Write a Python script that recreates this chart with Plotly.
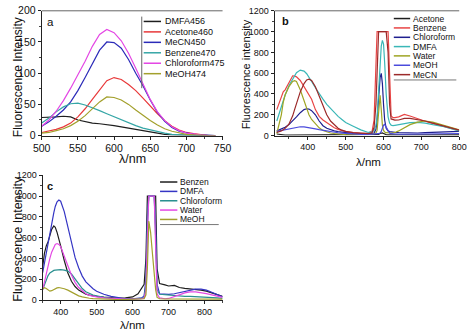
import plotly.graph_objects as go

# ---------------- panel a: emission spectra (500-750 nm) ----------------
wl_a = [500, 510, 520, 530, 540, 550, 560, 570, 580, 590, 600, 610, 620,
        630, 640, 650, 660, 670, 680, 690, 700, 710, 720, 730, 740]
a_dmfa456 = [29, 29, 30, 31, 30, 25, 22, 20, 19, 18, 16, 14, 12, 9, 7, 5, 3, 2, 1, 1, 0, 0, 0, 0, 0]
a_acetone460 = [5, 7, 10, 14, 20, 30, 43, 58, 74, 88, 93, 90, 82, 72, 60, 47, 35, 24, 15, 9, 5, 3, 1, 0, 0]
a_mecn450 = [15, 22, 31, 41, 54, 72, 93, 115, 137, 150, 149, 140, 122, 100, 80, 57, 37, 23, 13, 7, 4, 2, 1, 0, 0]
a_benzene470 = [20, 28, 38, 46, 51, 52, 49, 45, 40, 35, 30, 25, 20, 16, 12, 9, 6, 4, 2, 1, 1, 0, 0, 0, 0]
a_chloroform475 = [15, 25, 39, 56, 76, 97, 119, 143, 162, 170, 165, 152, 132, 108, 82, 58, 38, 24, 14, 8, 4, 2, 1, 0, 0]
a_meoh474 = [4, 5, 8, 11, 16, 23, 32, 43, 54, 62, 61, 57, 50, 41, 32, 24, 17, 11, 7, 4, 2, 1, 0, 0, 0]

# ---------------- panel b: spectra 318-800 nm ----------------
wl_b = [318, 325, 330, 335, 340, 350, 360, 365, 370, 380, 390, 397, 403, 410, 420, 430, 440,
        450, 460, 470, 480, 490, 500, 520, 540, 560, 570, 575, 580, 583, 587, 591, 594, 597,
        600, 603, 607, 612, 616, 620, 625, 630, 640, 655, 670, 690, 710, 730, 760, 800]
b_acetone = [15, 10, 6, 5, 5, 5, 5, 5, 5, 5, 5, 5, 5, 5, 5, 5, 5, 5, 5, 5,
             5, 5, 5, 5, 5, 5, 5, 6, 7, 8, 12, 20, 25, 25, 20, 14, 9, 7, 6, 6,
             6, 6, 6, 6, 6, 6, 6, 6, 6, 6]
b_benzene = [250, 320, 380, 420, 440, 510, 575, 573, 565, 530, 470, 430, 395, 350, 250, 185, 150, 125, 95, 75,
             60, 47, 38, 28, 22, 25, 45, 150, 850, 1000, 1000, 1000, 1000, 1000, 1000, 1000, 1000, 1000, 600, 190,
             172, 172, 180, 204, 188, 162, 138, 118, 90, 48]
b_chloroform = [45, 55, 62, 70, 80, 105, 140, 160, 180, 220, 250, 258, 255, 240, 200, 140, 95, 70, 55, 45,
                38, 32, 28, 20, 15, 15, 18, 25, 60, 150, 350, 560, 598, 500, 300, 150, 70, 45, 38, 35,
                32, 30, 28, 26, 25, 25, 28, 32, 36, 40]
b_dmfa = [140, 220, 280, 340, 390, 480, 550, 580, 605, 630, 620, 595, 565, 520, 460, 400, 350, 300, 260, 220,
          185, 155, 125, 90, 55, 30, 35, 50, 100, 180, 400, 700, 860, 915, 880, 700, 400, 180, 120, 100,
          95, 98, 105, 115, 125, 127, 120, 105, 85, 45]
b_water = [20, 120, 200, 320, 390, 470, 520, 528, 520, 440, 330, 250, 200, 155, 110, 75, 50, 35, 25, 20,
           15, 12, 10, 8, 8, 10, 15, 18, 25, 50, 200, 388, 250, 100, 50, 35, 28, 25, 25, 25,
           27, 30, 45, 75, 105, 130, 140, 130, 100, 55]
b_meoh = [40, 45, 50, 55, 60, 68, 75, 79, 82, 85, 83, 80, 76, 72, 65, 57, 50, 43, 37, 32,
          27, 23, 20, 15, 12, 12, 12, 13, 14, 15, 18, 25, 40, 70, 100, 108, 80, 40, 25, 18,
          15, 14, 13, 13, 14, 15, 16, 17, 19, 20]
b_mecn = [30, 35, 45, 55, 70, 110, 190, 250, 310, 420, 500, 535, 543, 530, 470, 380, 280, 200, 140, 100,
          70, 52, 40, 28, 20, 18, 30, 80, 300, 700, 1000, 1000, 1000, 1000, 1000, 1000, 1000, 800, 300, 160,
          150, 148, 150, 165, 165, 155, 140, 120, 92, 52]

# ---------------- panel c: spectra 350-850 nm ----------------
wl_c = [350, 355, 360, 365, 370, 375, 381, 385, 390, 395, 400, 410, 420, 430, 440, 450, 460, 470, 480, 490,
        500, 520, 540, 560, 580, 600, 615, 625, 632, 637, 641, 645, 650, 655, 660, 664, 668, 675, 690, 700,
        716, 730, 745, 760, 775, 790, 805, 820, 835, 850]
c_benzen = [320, 450, 520, 560, 620, 680, 713, 700, 650, 590, 520, 380, 260, 180, 130, 95, 72, 57, 47, 40,
            35, 28, 22, 18, 20, 30, 60, 110, 150, 400, 1000, 1000, 1000, 1000, 1000, 1000, 300, 158, 145, 135,
            140, 120, 112, 108, 100, 95, 85, 70, 50, 35]
c_dmfa = [263, 360, 450, 550, 650, 740, 840, 900, 945, 961, 950, 850, 700, 540, 410, 310, 230, 175, 138, 108,
          85, 55, 35, 20, 12, 12, 15, 20, 40, 200, 800, 1000, 1000, 1000, 1000, 700, 150, 60, 55, 55,
          60, 70, 85, 95, 105, 105, 95, 75, 50, 30]
c_chloroform = [100, 150, 200, 235, 260, 275, 285, 288, 290, 292, 292, 288, 278, 250, 200, 150, 110, 80, 60, 48,
                40, 25, 18, 12, 10, 10, 12, 15, 25, 150, 700, 1000, 1000, 1000, 1000, 600, 100, 55, 50, 48,
                42, 38, 35, 35, 33, 32, 30, 25, 20, 15]
c_water = [100, 180, 250, 330, 400, 460, 515, 535, 543, 535, 515, 430, 330, 240, 170, 120, 85, 60, 45, 36,
           30, 20, 14, 10, 8, 8, 10, 12, 20, 100, 600, 1000, 1000, 1000, 1000, 500, 60, 20, 12, 15,
           30, 50, 68, 78, 78, 72, 62, 50, 38, 25]
c_meoh = [105, 118, 110, 95, 85, 90, 102, 110, 117, 120, 118, 108, 95, 75, 55, 40, 30, 22, 17, 14,
          12, 8, 6, 5, 5, 5, 6, 8, 12, 50, 300, 760, 650, 450, 250, 100, 25, 12, 10, 10,
          10, 12, 14, 15, 15, 15, 14, 12, 10, 8]

series_a = [("DMFA456", a_dmfa456, "#1e1e1e"), ("Acetone460", a_acetone460, "#e8393a"),
            ("MeCN450", a_mecn450, "#2b2bb8"), ("Benzene470", a_benzene470, "#35a6a6"),
            ("Chloroform475", a_chloroform475, "#e447e4"), ("MeOH474", a_meoh474, "#a3a02c")]
series_b = [("Acetone", b_acetone, "#1e1e1e"), ("Benzene", b_benzene, "#e84545"),
            ("Chloroform", b_chloroform, "#1f1f8f"), ("DMFA", b_dmfa, "#3ab7b7"),
            ("Water", b_water, "#9fa524"), ("MeOH", b_meoh, "#4b4bdc"), ("MeCN", b_mecn, "#9c2a2a")]
series_c = [("Benzen", c_benzen, "#1e1e1e"), ("DMFA", c_dmfa, "#3535c4"),
            ("Chloroform", c_chloroform, "#2a9090"), ("Water", c_water, "#e448e4"),
            ("MeOH", c_meoh, "#a3a02c")]

W, H = 474, 336
FONT = "Liberation Sans, Arial, sans-serif"


def fx(p):
    return p / W


def fy(p):
    return 1 - p / H


fig = go.Figure()

for wl, series, xa, ya in [(wl_a, series_a, "x", "y"), (wl_b, series_b, "x2", "y2"),
                           (wl_c, series_c, "x3", "y3")]:
    for name, vals, col in series:
        fig.add_trace(go.Scatter(x=wl, y=vals, name=name, mode="lines",
                                 line=dict(color=col, width=1.2),
                                 xaxis=xa, yaxis=ya, showlegend=False))


def xax(dom, rng, ticks, minor, size, anchor):
    return dict(domain=dom, range=rng, tickvals=ticks, anchor=anchor,
                showline=True, linecolor="#222", linewidth=1, ticks="outside",
                ticklen=3, tickcolor="#222", showgrid=False, zeroline=False,
                tickfont=dict(family=FONT, size=size, color="#111"),
                minor=dict(ticks="outside", ticklen=2, dtick=minor, tickcolor="#444"))


def yax(dom, rng, dtick, minor, size, anchor):
    return dict(domain=dom, range=rng, dtick=dtick, anchor=anchor,
                showline=True, linecolor="#222", linewidth=1, ticks="outside",
                ticklen=3, tickcolor="#222", showgrid=False, zeroline=False,
                tickfont=dict(family=FONT, size=size, color="#111"),
                minor=dict(ticks="outside", ticklen=2, dtick=minor, tickcolor="#444"))


dom_a = [fx(34), fx(222)]
dom_b = [fx(276), fx(468)]
dom_c = [fx(35), fx(222)]
ydom_top = [fy(135), fy(6)]
ydom_bot = [fy(305), fy(176)]

fig.update_layout(
    width=W, height=H, margin=dict(l=0, r=0, t=0, b=0),
    paper_bgcolor="white", plot_bgcolor="white",
    xaxis=xax(dom_a, [500, 750], [500, 550, 600, 650, 700, 750], 25, 10.5, "y"),
    yaxis=yax(ydom_top, [0, 200], 50, 25, 10.5, "x"),
    xaxis2=xax(dom_b, [312, 800], [400, 500, 600, 700, 800], 50, 9, "y2"),
    yaxis2=yax(ydom_top, [0, 1200], 200, 100, 9, "x2"),
    xaxis3=xax(dom_c, [350, 850], [400, 500, 600, 700, 800], 50, 9, "y3"),
    yaxis3=yax(ydom_bot, [0, 1200], 200, 100, 9, "x3"),
)

shapes = []
annotations = []


def hline(x0, x1, y, color="#777", width=1):
    shapes.append(dict(type="line", xref="paper", yref="paper", x0=fx(x0), x1=fx(x1),
                       y0=fy(y), y1=fy(y), line=dict(color=color, width=width)))


def text(x, y, s, size, xanchor="left", angle=0, bold=False):
    annotations.append(dict(xref="paper", yref="paper", x=fx(x), y=fy(y), text=f"<b>{s}</b>" if bold else s,
                            showarrow=False, xanchor=xanchor, yanchor="middle", textangle=angle,
                            borderpad=0,
                            font=dict(family=FONT, size=size, color="#111")))


# top frame lines of panels a and b
hline(34, 222, 6, "#666", 1)
hline(276, 468, 6, "#666", 1)

# legends drawn as short line samples with labels
rows_a = [17, 27.8, 38.6, 49.4, 60.2, 71]
for (name, _, col), yy in zip(series_a, rows_a):
    hline(140, 158, yy, col, 1.5)
    text(161, yy, name, 9)
shapes.append(dict(type="line", xref="paper", yref="paper", x0=fx(138), x1=fx(138),
                   y0=fy(12), y1=fy(86), line=dict(color="#666", width=1)))

rows_b = [14, 23.7, 33.4, 43, 52.6, 62.3, 72]
for (name, _, col), yy in zip(series_b, rows_b):
    hline(400, 417, yy, col, 1.5)
    text(419, yy, name, 8.5)
hline(400, 465, 77.5, "#777", 1)

rows_c = [183, 192.7, 202.4, 212, 221.7]
for (name, _, col), yy in zip(series_c, rows_c):
    hline(157, 175, yy, col, 1.5)
    text(177, yy, name, 8.5)
hline(157, 218, 227, "#777", 1)

# axis titles and panel letters
text(9, 75, "Fluorescence Intensity", 12, "center", -90)
text(128, 159, "λ/nm", 12.5, "center")
text(246, 72, "Fluorescence intensity", 11, "center", -90)
text(374, 162, "λ/nm", 11.5, "center")
text(9, 242, "Fluorescence Intensity", 12.5, "center", -90)
text(128, 331, "λ/nm", 11.5, "center")
text(43, 18, "a", 11.5, "center")
text(287, 17, "b", 11, "center", bold=True)
text(43, 187, "c", 11, "center", bold=True)

fig.update_layout(shapes=shapes, annotations=annotations)

fig.write_html("out.html")
